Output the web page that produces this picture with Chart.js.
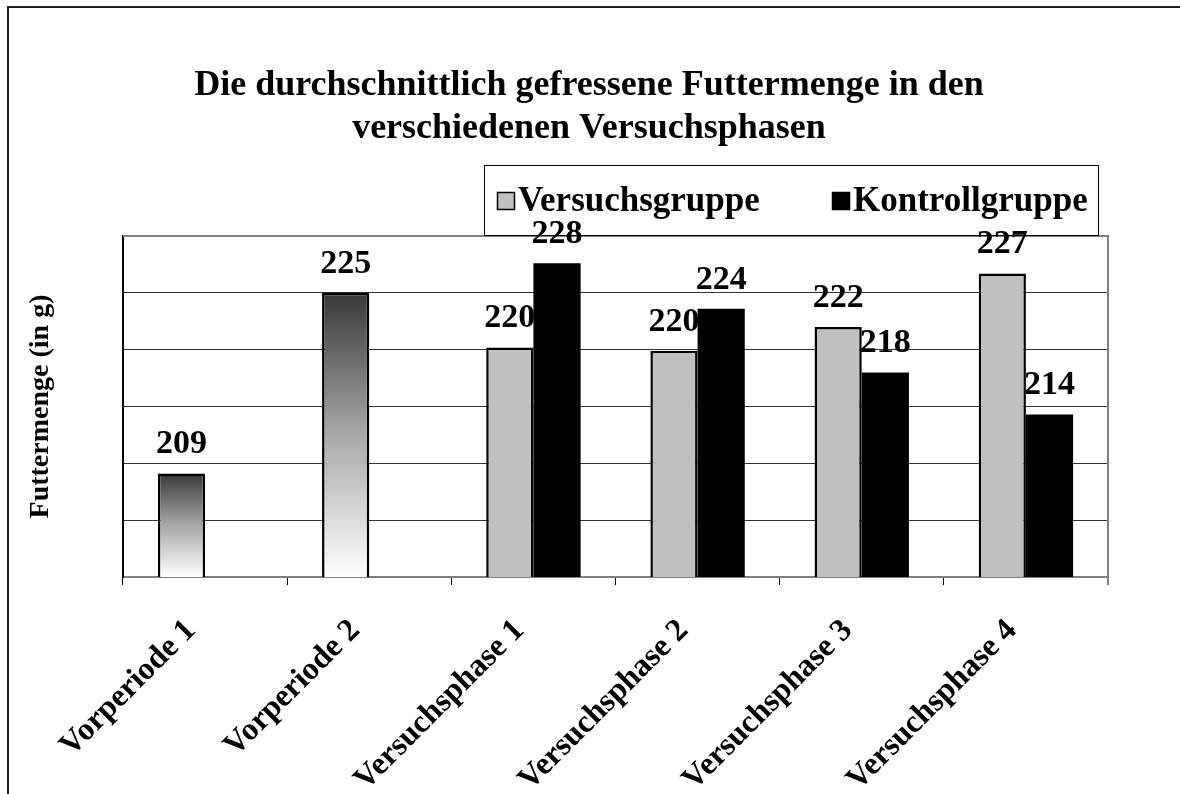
<!DOCTYPE html>
<html>
<head>
<meta charset="utf-8">
<script src="https://cdn.jsdelivr.net/npm/chart.js@4.4.1/dist/chart.umd.min.js"></script>
<style>
  html, body { margin: 0; padding: 0; background: #fff; }
  #wrap { width: 1180px; height: 794px; position: relative; }
</style>
</head>
<body>
<div id="wrap"><canvas id="chart" width="1180" height="794"></canvas></div>
<script>
const categories = ['Vorperiode 1', 'Vorperiode 2', 'Versuchsphase 1', 'Versuchsphase 2', 'Versuchsphase 3', 'Versuchsphase 4'];
const versuchsgruppe = [209.1, 225.0, 220.2, 219.9, 222.0, 226.7];
const kontrollgruppe = [null, null, 227.6, 223.6, 218.0, 214.3];
const seriesNames = ['Versuchsgruppe', 'Kontrollgruppe'];
const titleLines = ['Die durchschnittlich gefressene Futtermenge in den', 'verschiedenen Versuchsphasen'];
const yTitle = 'Futtermenge (in g)';

const SERIF = '"Liberation Serif", "Times New Roman", serif';
const GREY = '#c0c0c0';

// Vorperiode bars get a dark-to-white gradient, the rest are flat grey
const greyOrGradient = (ctx) => {
    if (!categories[ctx.dataIndex] || !categories[ctx.dataIndex].startsWith('Vorperiode')) return GREY;
    const ys = ctx.chart.scales.y;
    if (!ys || !ctx.parsed) return '#888';
    const top = ys.getPixelForValue(ctx.parsed.y);
    const bot = ys.getPixelForValue(ys.min);
    if (!isFinite(top) || !isFinite(bot) || top === bot) return '#888';
    const g = ctx.chart.ctx.createLinearGradient(0, top, 0, bot);
    g.addColorStop(0, '#383838');
    g.addColorStop(0.5, '#a8a8a8');
    g.addColorStop(1, '#ffffff');
    return g;
};

const decorations = {
    id: 'decorations',
    afterDraw(chart) {
        const { ctx, chartArea: a } = chart;
        ctx.save();

        // outer frame (left & top only visible)
        ctx.strokeStyle = '#222';
        ctx.lineWidth = 2;
        ctx.beginPath();
        ctx.moveTo(8, 794); ctx.lineTo(8, 7); ctx.lineTo(1180, 7);
        ctx.stroke();

        // plot area top / right border
        ctx.strokeStyle = '#808080';
        ctx.lineWidth = 2;
        ctx.beginPath();
        ctx.moveTo(a.left, a.top); ctx.lineTo(a.right, a.top); ctx.lineTo(a.right, a.bottom + 8);
        ctx.stroke();

        // title
        ctx.fillStyle = '#000';
        ctx.textAlign = 'center';
        ctx.textBaseline = 'middle';
        ctx.font = `bold 36px ${SERIF}`;
        ctx.fillText(titleLines[0], 589, 86);
        ctx.fillText(titleLines[1], 589, 129);

        // legend
        ctx.strokeStyle = '#000';
        ctx.lineWidth = 1;
        ctx.strokeRect(484.5, 165.5, 614, 70);
        const items = [
            { x: 497, fill: GREY, text: seriesNames[0] },
            { x: 832, fill: '#000', text: seriesNames[1] },
        ];
        ctx.font = `bold 35px ${SERIF}`;
        ctx.textAlign = 'left';
        items.forEach(it => {
            ctx.fillStyle = it.fill;
            ctx.fillRect(it.x, 192, 18, 18);
            ctx.strokeStyle = '#000';
            ctx.lineWidth = 1.5;
            ctx.strokeRect(it.x + 0.5, 192.5, 17, 17);
            ctx.fillStyle = '#000';
            ctx.fillText(it.text, it.x + 21, 202);
        });

        // value labels above bars
        ctx.font = `bold 34px ${SERIF}`;
        ctx.textAlign = 'center';
        ctx.textBaseline = 'bottom';
        chart.data.datasets.forEach((ds, di) => {
            chart.getDatasetMeta(di).data.forEach((bar, i) => {
                const v = ds.data[i];
                if (v == null) return;
                ctx.fillText(Math.round(v), bar.x, bar.y - 12);
            });
        });
        ctx.restore();
    }
};

new Chart(document.getElementById('chart'), {
    type: 'bar',
    data: {
        labels: categories,
        datasets: [
            {
                label: seriesNames[0],
                data: versuchsgruppe,
                backgroundColor: greyOrGradient,
                borderColor: '#000',
                borderWidth: 2.5,
            },
            {
                label: seriesNames[1],
                data: kontrollgruppe,
                backgroundColor: '#000',
                borderColor: '#000',
                borderWidth: 0,
            }
        ]
    },
    options: {
        responsive: false,
        animation: false,
        layout: { padding: { top: 236, right: 72, left: 0, bottom: 0 } },
        datasets: { bar: { categoryPercentage: 0.575, barPercentage: 1.0 } },
        plugins: {
            legend: { display: false },
            title: { display: false },
            tooltip: { enabled: false }
        },
        scales: {
            x: {
                afterFit: (s) => { s.height = 794 - 577; },
                grid: { display: true, drawOnChartArea: false, offset: true, tickLength: 8, color: '#000', lineWidth: 1 },
                border: { color: '#808080', width: 2 },
                ticks: {
                    autoSkip: false, minRotation: 45, maxRotation: 45, padding: 27, labelOffset: -14,
                    color: '#000', font: { family: SERIF, size: 32, weight: 'bold' }
                }
            },
            y: {
                min: 200, max: 230,
                afterFit: (s) => { s.width = 123; },
                grid: { color: '#333', lineWidth: 1, drawTicks: false },
                border: { color: '#000', width: 2 },
                ticks: { display: false, stepSize: 5 },
                title: {
                    display: true, text: yTitle, color: '#000',
                    padding: { top: 24, bottom: 0 },
                    font: { family: SERIF, size: 28, weight: 'bold' }
                }
            }
        }
    },
    plugins: [decorations]
});
</script>
</body>
</html>
